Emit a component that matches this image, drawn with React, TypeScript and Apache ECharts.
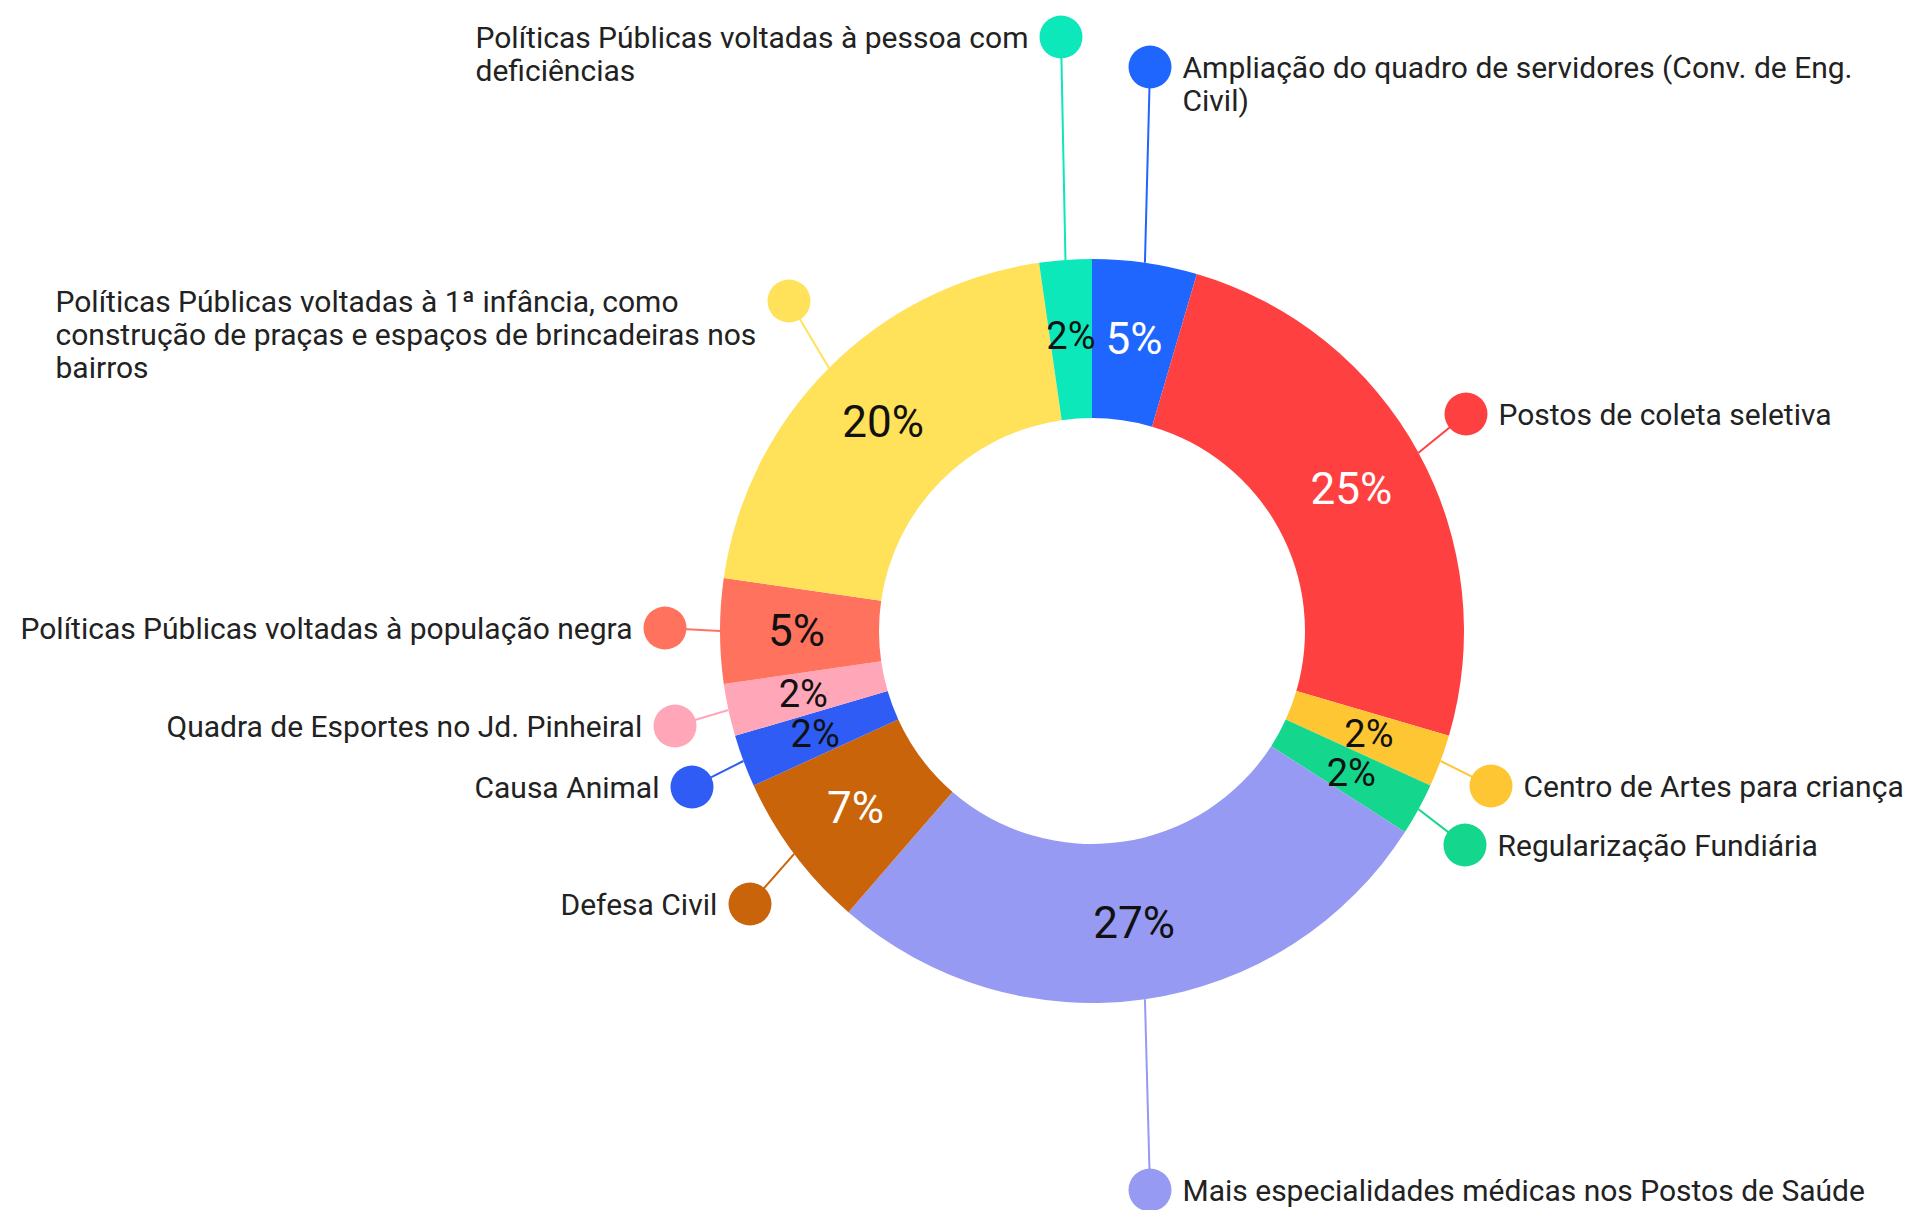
import React, { useEffect, useRef } from 'react';
import * as echarts from 'echarts';

// ---- data ----
const categories: string[] = [
  'Ampliação do quadro de servidores (Conv. de Eng.\nCivil)',
  'Postos de coleta seletiva',
  'Centro de Artes para criança',
  'Regularização Fundiária',
  'Mais especialidades médicas nos Postos de Saúde',
  'Defesa Civil',
  'Causa Animal',
  'Quadra de Esportes no Jd. Pinheiral',
  'Políticas Públicas voltadas à população negra',
  'Políticas Públicas voltadas à 1ª infância, como\nconstrução de praças e espaços de brincadeiras nos\nbairros',
  'Políticas Públicas voltadas à pessoa com\ndeficiências',
];
const responses: number[] = [2, 11, 1, 1, 12, 3, 1, 1, 2, 9, 1];

// ---- styles ----
const sliceColors: string[] = [
  '#1F66FF', '#FF4040', '#FFC633', '#14D68C', '#979AF2', '#C9640A',
  '#2E5CF5', '#FFA6B9', '#FF735E', '#FFE15A', '#0DE8BA',
];
const percentLabelColors: string[] = [
  '#ffffff', '#ffffff', '#111111', '#111111', '#111111', '#ffffff',
  '#111111', '#111111', '#111111', '#111111', '#111111',
];

// ---- layout (label dot centres, in px, and which side of the dot the text sits) ----
const labelDots: [number, number][] = [
  [1150, 67], [1466, 414], [1491, 786], [1465, 845], [1150, 1190],
  [750, 904], [692, 787], [675, 726], [665, 628], [789, 301], [1061, 37],
];
const labelSides: string[] = ['R', 'R', 'R', 'R', 'R', 'L', 'L', 'L', 'L', 'L', 'L'];

const CENTER: [number, number] = [1092, 631];
const R_IN = 213;
const R_OUT = 372;
const FONT = 'Roboto, "Noto Sans", sans-serif';
const NAME_SIZE = 30;
const LINE_H = 33;
const DOT = 43;
const GAP = 11;
const PCT_SIZE = 44;
const PCT_SIZE_SMALL = 38;

export default function App() {
  const ref = useRef<HTMLDivElement>(null);

  useEffect(() => {
    if (!ref.current) return;
    const canvas = document.createElement('canvas');
    const ctx = canvas.getContext('2d')!;
    ctx.font = `${NAME_SIZE}px Roboto`;
    const measure = (s: string) => ctx.measureText(s).width;

    const total = responses.reduce((a, b) => a + b, 0);
    const blockWidths = categories.map((c) =>
      Math.ceil(Math.max(...c.split('\n').map(measure)))
    );

    const textStyle = { fontSize: NAME_SIZE, fontFamily: FONT, color: '#222', lineHeight: LINE_H };

    const outerData = categories.map((name, i) => {
      const lines = name.split('\n');
      const color = sliceColors[i];
      let formatter: string;
      if (labelSides[i] === 'R') {
        formatter = lines
          .map((l, k) => (k === 0 ? `{dot| }{gap| }{t|${l}}` : `{ind| }{t|${l}}`))
          .join('\n');
      } else {
        formatter = lines
          .map((l, k) => (k === 0 ? `{w|${l}}{gap| }{dot| }` : `{t|${l}}`))
          .join('\n');
      }
      return {
        value: responses[i],
        name,
        itemStyle: { color },
        label: {
          formatter,
          rich: {
            dot: { width: DOT, height: DOT, lineHeight: LINE_H, backgroundColor: color, borderRadius: DOT / 2 },
            gap: { width: GAP, lineHeight: LINE_H },
            ind: { width: DOT + GAP, lineHeight: LINE_H },
            t: textStyle,
            w: { ...textStyle, width: blockWidths[i] },
          },
        },
        labelLine: { lineStyle: { color } },
      };
    });

    const innerData = categories.map((name, i) => ({
      value: responses[i],
      name,
      itemStyle: { color: 'rgba(0,0,0,0)' },
      label: {
        color: percentLabelColors[i],
        fontSize: responses[i] / total < 0.03 ? PCT_SIZE_SMALL : PCT_SIZE,
        lineHeight: responses[i] / total < 0.03 ? 30 : PCT_SIZE,
      },
    }));

    const chart = echarts.init(ref.current, undefined, { renderer: 'svg' });
    chart.setOption({
      animation: false,
      backgroundColor: '#ffffff',
      series: [
        {
          type: 'pie',
          center: CENTER,
          radius: [R_IN, R_OUT],
          startAngle: 90,
          clockwise: true,
          avoidLabelOverlap: false,
          minShowLabelAngle: 0,
          silent: true,
          emphasis: { disabled: true },
          label: { show: true, position: 'outside', fontFamily: FONT, fontSize: NAME_SIZE, color: '#222' },
          labelLine: { show: true, smooth: false, length: 10, length2: 10, lineStyle: { width: 2 } },
          labelLayout: (params: any) => {
            const i = params.dataIndex;
            const [dx, dy] = labelDots[i];
            const r = DOT / 2;
            const x = labelSides[i] === 'R' ? dx - r : dx + r - (blockWidths[i] + GAP + DOT);
            const y = dy - LINE_H / 2;
            let cum = 0;
            for (let k = 0; k < i; k++) cum += responses[k];
            const mid = ((cum + responses[i] / 2) / total) * Math.PI * 2;
            const start: number[] =
              params.labelLinePoints && params.labelLinePoints[0]
                ? params.labelLinePoints[0]
                : [CENTER[0] + R_OUT * Math.sin(mid), CENTER[1] - R_OUT * Math.cos(mid)];
            const vx = dx - start[0];
            const vy = dy - start[1];
            const len = Math.hypot(vx, vy) || 1;
            const end = [dx - (vx / len) * r * 0.6, dy - (vy / len) * r * 0.6];
            return {
              x,
              y,
              align: 'left',
              verticalAlign: 'top',
              hideOverlap: false,
              labelLinePoints: [start, end, end],
            };
          },
          data: outerData,
        },
        {
          type: 'pie',
          center: CENTER,
          radius: [R_IN, R_OUT],
          startAngle: 90,
          clockwise: true,
          avoidLabelOverlap: false,
          minShowLabelAngle: 0,
          silent: true,
          emphasis: { disabled: true },
          label: {
            show: true,
            position: 'inside',
            fontFamily: FONT,
            fontSize: PCT_SIZE,
            fontWeight: 'normal',
            formatter: (p: any) => `${Math.round(p.percent)}%`,
          },
          labelLine: { show: false },
          labelLayout: { hideOverlap: false },
          data: innerData,
        },
      ],
    });
    return () => chart.dispose();
  }, []);

  return (
    <div
      ref={ref}
      style={{ position: 'fixed', left: 0, top: 0, width: 1913, height: 1210, background: '#fff' }}
    />
  );
}
